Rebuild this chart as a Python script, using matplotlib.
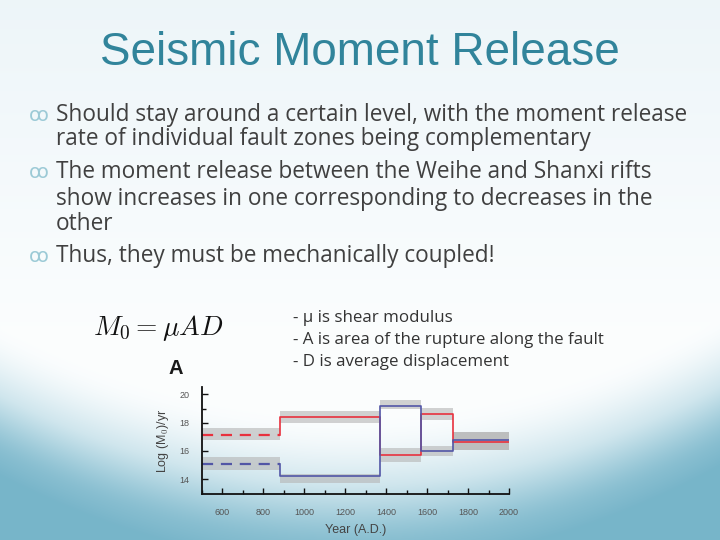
import numpy as np
import matplotlib
matplotlib.use("Agg")
import matplotlib.pyplot as plt

plt.rcParams['font.family'] = ['Liberation Sans', 'DejaVu Sans']
plt.rcParams['mathtext.fontset'] = 'cm'

# ---- data ----
edges = [500, 880, 1370, 1570, 1725, 2000]
red_vals = [17.1, 18.4, 15.7, 18.6, 16.6]
red_lo = [16.8, 17.95, 15.25, 18.2, 16.1]
red_hi = [17.6, 18.85, 16.2, 19.05, 17.35]
blue_vals = [15.1, 14.2, 19.2, 16.0, 16.8]
blue_lo = [14.66, 13.75, 18.95, 15.65, 16.1]
blue_hi = [15.55, 14.4, 19.6, 16.35, 17.35]
xticks = [600, 800, 1000, 1200, 1400, 1600, 1800, 2000]
yticks = [14, 16, 18, 20]

title = "Seismic Moment Release"
bullets = [
    ("Should stay around a certain level, with the moment release", True),
    ("rate of individual fault zones being complementary", False),
    ("The moment release between the Weihe and Shanxi rifts", True),
    ("show increases in one corresponding to decreases in the", False),
    ("other", False),
    ("Thus, they must be mechanically coupled!", True),
]
notes = ["- \u03bc is shear modulus",
         "- A is area of the rupture along the fault",
         "- D is average displacement"]

W, H = 720, 540
fig = plt.figure(figsize=(7.2, 5.4), dpi=100)

# ---- background ----
yy, xx = np.mgrid[0:H, 0:W].astype(float)
top = np.array([0.930, 0.962, 0.976])
mid = np.array([0.985, 0.993, 0.996])
f = np.clip(yy / 330.0, 0, 1)[..., None]
base = top * (1 - f) + mid * f
curve = 500 - 95 * ((xx - 360) / 360.0) ** 2 - 10 * (xx / 720.0)
t = np.clip((yy - curve + 80) / 130.0, 0, 1)[..., None]
t = t * t * (3 - 2 * t)
teal_hi = np.array([0.68, 0.83, 0.88])
teal_lo = np.array([0.47, 0.71, 0.79])
d = np.clip((yy - curve + 10) / 80.0, 0, 1)[..., None]
teal = teal_hi * (1 - d) + teal_lo * d
img = base * (1 - t) + teal * t
bg = fig.add_axes([0, 0, 1, 1], zorder=0)
bg.imshow(img, aspect='auto', extent=(0, 1, 0, 1), interpolation='bilinear')
bg.axis('off')

def fx(px):
    return px / W

def fy(py):
    return 1 - py / H

# ---- texts ----
fig.text(0.5, fy(53), title, ha='center', va='center', fontsize=33,
         color='#31849b', zorder=3)

baselines = [120.7, 145, 178.3, 205, 230, 262.3]
for (txt, has_bullet), b in zip(bullets, baselines):
    fig.text(fx(56), fy(b), txt, ha='left', va='baseline', fontsize=16.3,
             family=['Open Sans', 'DejaVu Sans'], color='#404040', zorder=3)
    if has_bullet:
        fig.text(fx(29), fy(b), "\ua74f", ha='left', va='baseline', fontsize=14,
                 color='#9ccad6', family=['DejaVu Sans'], zorder=3)

fig.text(fx(93), fy(328), r"$M_0 = \mu AD$", ha='left', va='center',
         fontsize=19.8, color='#111111', zorder=3)
fig.text(fx(176), fy(368), "A", ha='center', va='center', fontsize=14.5,
         fontweight='bold', color='#1a1a1a', zorder=3)
for i, n in enumerate(notes):
    fig.text(fx(293), fy(322 + 22 * i), n, ha='left', va='baseline',
             fontsize=12.2, family=['Open Sans', 'DejaVu Sans'],
             color='#333333', zorder=3)

# ---- chart ----
ax = fig.add_axes([fx(202), fy(494.3), fx(509) - fx(202), (494.3 - 386.7) / H],
                  zorder=2)
ax.set_facecolor('none')
gray = '#b4b4b4'
ax.fill_between(edges, red_lo + [red_lo[-1]], red_hi + [red_hi[-1]], step='post',
                color=gray, alpha=0.6, lw=0)
ax.fill_between(edges, blue_lo + [blue_lo[-1]], blue_hi + [blue_hi[-1]], step='post',
                color=gray, alpha=0.6, lw=0)

red_c = '#e8313e'
blue_c = '#5256a6'
for vals, c in ((red_vals, red_c), (blue_vals, blue_c)):
    ax.plot(edges[:2], [vals[0], vals[0]], color=c, lw=1.6, ls=(0, (5, 3.5)))
    xs = [edges[1]] + edges[1:]
    ys = [vals[0]] + vals[1:] + [vals[-1]]
    ax.step(xs, ys, where='post', color=c, lw=1.2)

ax.set_xlim(500, 2000)
ax.set_ylim(12.94, 20.54)
ax.set_xticks(xticks)
ax.set_xticklabels([str(v) for v in xticks])
ax.set_xticks(np.arange(500, 2001, 100), minor=True)
ax.set_yticks(yticks)
ax.set_yticklabels([str(v) for v in yticks])
ax.set_yticks([19], minor=True)
for s in ('top', 'right'):
    ax.spines[s].set_visible(False)
for s in ('left', 'bottom'):
    ax.spines[s].set_linewidth(1.3)
    ax.spines[s].set_color('#111111')
ax.tick_params(which='both', direction='in', color='#111111', width=1.0,
               labelsize=6.5, labelcolor='#555555')
ax.tick_params(axis='x', which='both', pad=10)
ax.tick_params(axis='y', which='both', pad=9)
ax.tick_params(which='major', length=4)
ax.tick_params(which='minor', length=3)
ax.set_xlabel("Year (A.D.)", fontsize=9, color='#444444', labelpad=5)
ax.set_ylabel(r"Log (M$_0$)/yr", fontsize=9, color='#444444', labelpad=6)

fig.savefig("out.png", dpi=100)
